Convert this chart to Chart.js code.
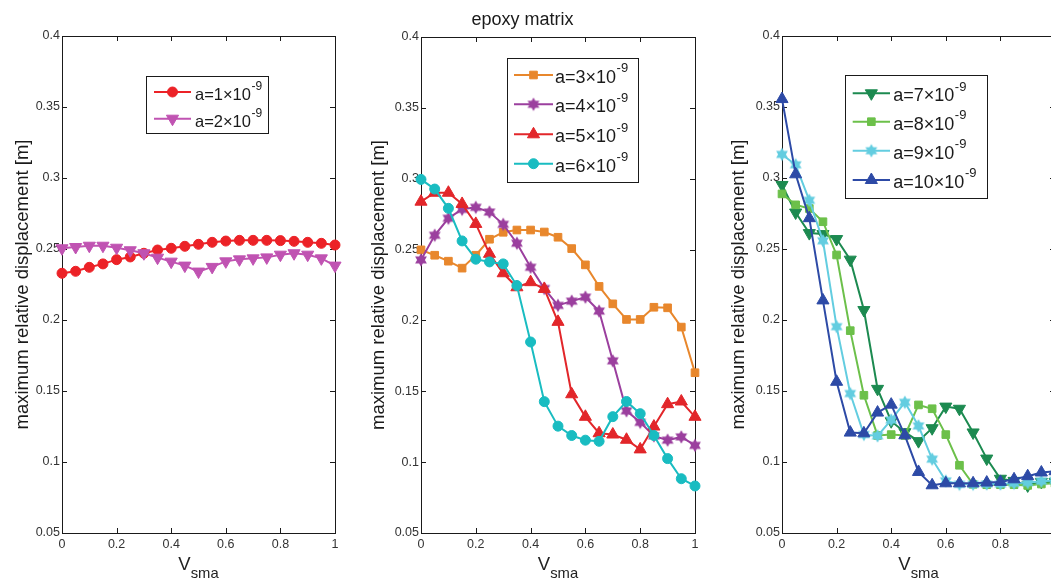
<!DOCTYPE html>
<html>
<head>
<meta charset="utf-8">
<script src="https://cdn.jsdelivr.net/npm/chart.js@4.4.1/dist/chart.umd.min.js"></script>
<style>
  html, body { margin: 0; padding: 0; background: #fff; overflow: hidden; width: 1051px; height: 581px; }
  canvas { position: absolute; top: 0; }
</style>
</head>
<body>
<canvas id="c1" width="350" height="581" style="left:0px"></canvas>
<canvas id="c2" width="355" height="581" style="left:350px"></canvas>
<canvas id="c3" width="360" height="581" style="left:705px"></canvas>
<script>
// volume fraction of SMA on the x axis
const vsma = [0, 0.05, 0.1, 0.15, 0.2, 0.25, 0.3, 0.35, 0.4, 0.45, 0.5,
  0.55, 0.6, 0.65, 0.7, 0.75, 0.8, 0.85, 0.9, 0.95, 1];

const xTicks = [0, 0.2, 0.4, 0.6, 0.8, 1];
const yTicks = [0.05, 0.1, 0.15, 0.2, 0.25, 0.3, 0.35, 0.4];

// left panel
const a1 = [0.2329, 0.2343, 0.2371, 0.2395, 0.2425, 0.2444, 0.2470, 0.2493, 0.2505, 0.2519, 0.2533,
  0.2547, 0.2556, 0.2561, 0.2561, 0.2561, 0.2559, 0.2554, 0.2547, 0.2540, 0.2528];
const a2 = [0.2505, 0.2514, 0.2523, 0.2523, 0.2509, 0.2491, 0.2470, 0.2439, 0.2411, 0.2383, 0.2341,
  0.2374, 0.2413, 0.2427, 0.2434, 0.2441, 0.2460, 0.2470, 0.2460, 0.2434, 0.2383];

// epoxy matrix
const a3 = [0.2498, 0.2460, 0.2418, 0.2369, 0.2460, 0.2573, 0.2622, 0.2638, 0.2638, 0.2624, 0.2587,
  0.2507, 0.2392, 0.2240, 0.2117, 0.2007, 0.2007, 0.2093, 0.2089, 0.1953, 0.1631];
const a4 = [0.2427, 0.2601, 0.2721, 0.2784, 0.2798, 0.2765, 0.2678, 0.2545, 0.2375, 0.2225, 0.2106,
  0.2136, 0.2164, 0.2066, 0.1715, 0.1362, 0.1281, 0.1185, 0.1155, 0.1178, 0.1118];
const a5 = [0.2838, 0.2901, 0.2901, 0.2822, 0.2681, 0.2470, 0.2333, 0.2234, 0.2270, 0.2222, 0.1990,
  0.1479, 0.1320, 0.1204, 0.1195, 0.1158, 0.1090, 0.1251, 0.1409, 0.1428, 0.1320];
const a6 = [0.2995, 0.2927, 0.2791, 0.2561, 0.2432, 0.2413, 0.2399, 0.2246, 0.1848, 0.1427, 0.1254,
  0.1188, 0.1155, 0.1147, 0.1321, 0.1428, 0.1342, 0.1188, 0.1025, 0.0883, 0.0832];

// right panel
const a7 = [0.2951, 0.2757, 0.2612, 0.2605, 0.2570, 0.2425, 0.2070, 0.1515, 0.1287, 0.1210, 0.1147,
  0.1238, 0.1390, 0.1375, 0.1208, 0.1024, 0.0882, 0.0867, 0.0835, 0.0860, 0.0860];
const a8 = [0.2888, 0.2811, 0.2785, 0.2692, 0.2458, 0.1925, 0.1470, 0.1187, 0.1193, 0.1187, 0.1402,
  0.1375, 0.1193, 0.0977, 0.0843, 0.0840, 0.0840, 0.0840, 0.0835, 0.0845, 0.0850];
const a9 = [0.3166, 0.3093, 0.2843, 0.2558, 0.1953, 0.1482, 0.1194, 0.1184, 0.1296, 0.1420, 0.1254,
  0.1020, 0.0867, 0.0843, 0.0843, 0.0845, 0.0845, 0.0850, 0.0855, 0.0865, 0.0870];
const a10 = [0.3556, 0.3026, 0.2717, 0.2138, 0.1565, 0.1207, 0.1202, 0.1348, 0.1404, 0.1188, 0.0930,
  0.0836, 0.0850, 0.0850, 0.0850, 0.0855, 0.0860, 0.0878, 0.0900, 0.0926, 0.0935];

const FONT = '"Liberation Sans", Arial, Helvetica, sans-serif';

function pts(values) {
  return vsma.map((x, i) => ({ x: x, y: values[i] }));
}

// filled six-pointed star used as a marker image
function hexagram(color) {
  const c = document.createElement('canvas');
  c.width = 16; c.height = 16;
  const g = c.getContext('2d');
  const r = 6.8;
  g.beginPath();
  [-Math.PI / 2, Math.PI / 2].forEach(base => {
    for (let j = 0; j < 3; j++) {
      const ang = base + j * 2 * Math.PI / 3;
      const px = 8 + r * Math.cos(ang), py = 8 + r * Math.sin(ang);
      if (j === 0) g.moveTo(px, py); else g.lineTo(px, py);
    }
    g.closePath();
  });
  g.fillStyle = color;
  g.fill();
  return c;
}

const MARK = {
  circle: { pointStyle: 'circle', pointRadius: 5, pointRotation: 0 },
  up: { pointStyle: 'triangle', pointRadius: 7, pointRotation: 0 },
  down: { pointStyle: 'triangle', pointRadius: 7, pointRotation: 180 },
  square: { pointStyle: 'rect', pointRadius: 5.4, pointRotation: 0 },
  star: { pointRadius: 8, pointRotation: 0 }
};

function line(label, values, color, mark, i) {
  const m = MARK[mark];
  return {
    label: label,
    data: pts(values),
    borderColor: color,
    backgroundColor: color,
    pointBackgroundColor: color,
    pointBorderColor: color,
    pointBorderWidth: 1,
    pointStyle: mark === 'star' ? hexagram(color) : m.pointStyle,
    pointRadius: m.pointRadius,
    pointRotation: m.pointRotation,
    borderWidth: 2,
    tension: 0,
    clip: false,
    order: -i
  };
}

// box around the axes with MATLAB-style inward ticks
const axesBox = {
  id: 'axesBox',
  beforeDatasetsDraw(chart) {
    const { ctx, chartArea: a, scales } = chart;
    ctx.save();
    ctx.strokeStyle = '#1a1a1a';
    ctx.lineWidth = 1;
    ctx.strokeRect(a.left + 0.5, a.top + 0.5, a.right - a.left, a.bottom - a.top);
    ctx.beginPath();
    xTicks.forEach(v => {
      const px = Math.round(scales.x.getPixelForValue(v)) + 0.5;
      ctx.moveTo(px, a.bottom); ctx.lineTo(px, a.bottom - 5);
      ctx.moveTo(px, a.top); ctx.lineTo(px, a.top + 5);
    });
    yTicks.forEach(v => {
      const py = Math.round(scales.y.getPixelForValue(v)) + 0.5;
      ctx.moveTo(a.left, py); ctx.lineTo(a.left + 5, py);
      ctx.moveTo(a.right, py); ctx.lineTo(a.right - 5, py);
    });
    ctx.stroke();
    ctx.restore();
  }
};

// x axis label V with subscript "sma"
const xLabel = {
  id: 'xLabel',
  afterDraw(chart) {
    const { ctx, chartArea: a } = chart;
    ctx.save();
    ctx.fillStyle = '#222';
    ctx.textBaseline = 'alphabetic';
    ctx.textAlign = 'left';
    const big = '18.5px ' + FONT, small = '14.8px ' + FONT;
    ctx.font = big;
    const wV = ctx.measureText('V').width;
    ctx.font = small;
    const wS = ctx.measureText('sma').width;
    const x0 = (a.left + a.right) / 2 - (wV + wS) / 2;
    ctx.font = big;
    ctx.fillText('V', x0, a.bottom + 37);
    ctx.font = small;
    ctx.fillText('sma', x0 + wV, a.bottom + 45);
    ctx.restore();
  }
};

// boxed legend inside the axes, labels written as base^exponent
const boxLegend = {
  id: 'boxLegend',
  afterDatasetsDraw(chart, args, o) {
    const { ctx } = chart;
    ctx.save();
    ctx.fillStyle = '#fff';
    ctx.fillRect(o.left, o.top, o.width, o.height);
    ctx.strokeStyle = '#1a1a1a';
    ctx.lineWidth = 1;
    ctx.strokeRect(o.left + 0.5, o.top + 0.5, o.width, o.height);
    chart.data.datasets.forEach((d, i) => {
      const y = o.rows[i];
      ctx.strokeStyle = d.borderColor;
      ctx.lineWidth = d.borderWidth;
      ctx.beginPath();
      ctx.moveTo(o.lineX[0], y); ctx.lineTo(o.lineX[1], y);
      ctx.stroke();
      ctx.fillStyle = d.pointBackgroundColor;
      ctx.strokeStyle = d.pointBorderColor;
      ctx.lineWidth = d.pointBorderWidth;
      Chart.helpers.drawPoint(ctx, {
        pointStyle: d.pointStyle, rotation: d.pointRotation,
        radius: d.pointRadius, borderWidth: d.pointBorderWidth
      }, (o.lineX[0] + o.lineX[1]) / 2, y);
      const [base, exp] = d.label.split('^');
      ctx.fillStyle = '#1a1a1a';
      ctx.textBaseline = 'alphabetic';
      ctx.textAlign = 'left';
      ctx.font = o.font + 'px ' + FONT;
      ctx.fillText(base, o.textX, y + 8);
      const w = ctx.measureText(base).width;
      ctx.font = o.supFont + 'px ' + FONT;
      ctx.fillText(exp, o.textX + w + 0.5, y + 8 - 0.6 * o.font);
    });
    ctx.restore();
  }
};

function panel(id, datasets, cfg) {
  return new Chart(document.getElementById(id), {
    type: 'line',
    data: { datasets: datasets },
    plugins: [axesBox, xLabel, boxLegend],
    options: {
      responsive: false,
      animation: false,
      devicePixelRatio: 1,
      layout: { padding: { top: cfg.padTop, right: cfg.padRight, left: 0, bottom: 0 } },
      plugins: {
        legend: { display: false },
        tooltip: { enabled: false },
        title: {
          display: !!cfg.title,
          text: cfg.title || '',
          color: '#1a1a1a',
          font: { family: FONT, size: 18, weight: 'normal' },
          padding: { top: 9, bottom: 6.4 }
        },
        boxLegend: cfg.legend
      },
      scales: {
        x: {
          type: 'linear',
          min: 0, max: 1,
          afterFit: s => { s.height = 48; },
          afterBuildTicks: s => { s.ticks = xTicks.map(v => ({ value: v })); },
          grid: { display: false, drawTicks: false },
          border: { display: false },
          ticks: {
            color: '#333', padding: 4,
            font: { family: FONT, size: 12.5 },
            maxRotation: 0,
            callback: v => String(v)
          }
        },
        y: {
          type: 'linear',
          min: 0.05, max: 0.4,
          afterFit: s => { s.width = cfg.yWidth; },
          afterBuildTicks: s => { s.ticks = yTicks.map(v => ({ value: v })); },
          grid: { display: false, drawTicks: false },
          border: { display: false },
          ticks: {
            color: '#333', padding: 2,
            font: { family: FONT, size: 12.5 },
            callback: v => String(v)
          },
          title: {
            display: true,
            text: 'maximum relative displacement [m]',
            color: '#1a1a1a',
            font: { family: FONT, size: 18.5 },
            padding: { top: cfg.titlePad, bottom: 0 }
          }
        }
      }
    }
  });
}

panel('c1', [
  line('a=1×10^-9', a1, '#ec2227', 'circle', 0),
  line('a=2×10^-9', a2, '#c053b2', 'down', 1)
], {
  padTop: 36, padRight: 15, yWidth: 62, titlePad: 12,
  legend: { left: 146, top: 76, width: 122, height: 57, rows: [92, 118.7],
    lineX: [154, 191], textX: 195, font: 16.5, supFont: 12 }
});

panel('c2', [
  line('a=3×10^-9', a3, '#e8872c', 'square', 0),
  line('a=4×10^-9', a4, '#9b3f9e', 'star', 1),
  line('a=5×10^-9', a5, '#e2262a', 'up', 2),
  line('a=6×10^-9', a6, '#19bcc1', 'circle', 3)
], {
  title: 'epoxy matrix',
  padTop: 0, padRight: 10, yWidth: 71, titlePad: 18,
  legend: { left: 157, top: 58, width: 131, height: 124, rows: [75, 104.3, 134.3, 163.7],
    lineX: [164, 203], textX: 205, font: 18, supFont: 13 }
});

panel('c3', [
  line('a=7×10^-9', a7, '#1c8a50', 'down', 0),
  line('a=8×10^-9', a8, '#6cc04a', 'square', 1),
  line('a=9×10^-9', a9, '#63cde0', 'star', 2),
  line('a=10×10^-9', a10, '#2d4aa6', 'up', 3)
], {
  padTop: 36, padRight: 10, yWidth: 77, titlePad: 23,
  legend: { left: 140, top: 75, width: 142, height: 123, rows: [93.3, 121.7, 150.7, 180],
    lineX: [147.7, 185], textX: 188.3, font: 18, supFont: 13 }
});
</script>
</body>
</html>
